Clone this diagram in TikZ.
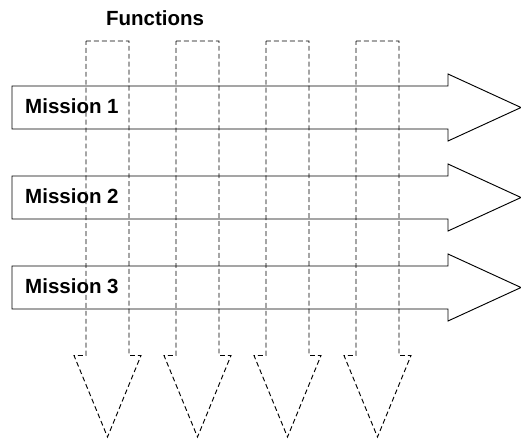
\documentclass[tikz,border=0pt]{standalone}
\usepackage{fontspec}
\setmainfont{Liberation Sans}
\usepackage{tikz}

\begin{document}
\begin{tikzpicture}[
  x=0.03cm, y=-0.03cm,
  mission/.style={draw=black, line width=0.8pt, line join=miter},
  function/.style={draw=black, line width=0.8pt, dash pattern=on 4.2pt off 2.6pt},
  label/.style={inner sep=0pt, font=\fontsize{17.5}{21}\selectfont\bfseries}
]
  \useasboundingbox (0,0) rectangle (521,439);

  % Mission arrows
  \draw[mission] (12,86) -- (448,86) -- (448,74) -- (521,107.5) -- (448,141) -- (448,129) -- (12,129) -- cycle;
  \draw[mission] (12,176) -- (448,176) -- (448,164) -- (521,197.5) -- (448,231) -- (448,219) -- (12,219) -- cycle;
  \draw[mission] (12,266) -- (448,266) -- (448,254) -- (521,287.5) -- (448,321) -- (448,309) -- (12,309) -- cycle;

  % Function arrows
  \draw[function] (86,41) -- (129,41) -- (129,355.5) -- (141,355.5) -- (107.5,437) -- (74,355.5) -- (86,355.5) -- cycle;
  \draw[function] (176,41) -- (219,41) -- (219,355.5) -- (231,355.5) -- (197.5,437) -- (164,355.5) -- (176,355.5) -- cycle;
  \draw[function] (266,41) -- (309,41) -- (309,355.5) -- (321,355.5) -- (287.5,437) -- (254,355.5) -- (266,355.5) -- cycle;
  \draw[function] (356,41) -- (399,41) -- (399,355.5) -- (411,355.5) -- (377.5,437) -- (344,355.5) -- (356,355.5) -- cycle;

  % Labels
  \node[label, anchor=base] (functions) at (155,25.7) {Functions};
  \node[label, anchor=base west] (m1) at (25,113.3) {Mission 1};
  \node[label, anchor=base west] (m2) at (25,203.3) {Mission 2};
  \node[label, anchor=base west] (m3) at (25,293.3) {Mission 3};
\end{tikzpicture}
\end{document}
